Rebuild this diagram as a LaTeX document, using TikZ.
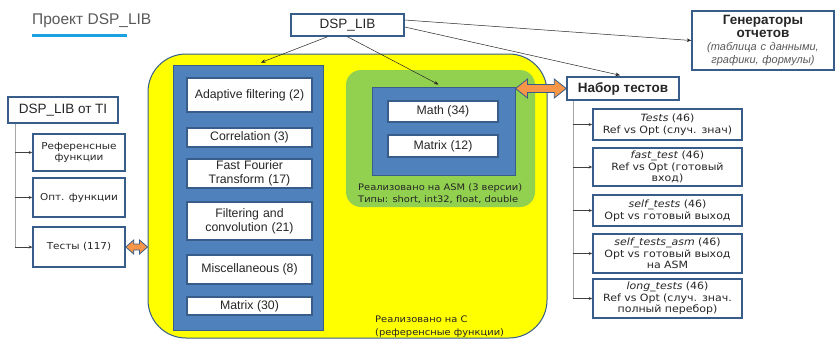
\documentclass[tikz,border=0pt]{standalone}
\usepackage{fontspec}
\setmainfont{Liberation Sans}
\newfontfamily\vf{DejaVu Sans}[FakeStretch=1.1]
\usetikzlibrary{calc,arrows.meta}
\definecolor{bdr}{HTML}{385D8A}
\definecolor{bluef}{HTML}{4F81BD}
\definecolor{yelf}{HTML}{FFFF00}
\definecolor{grnf}{HTML}{92D050}
\definecolor{orng}{HTML}{F79646}
\definecolor{txt}{HTML}{262626}
\definecolor{ttl}{HTML}{595959}
\definecolor{uline}{HTML}{1BA1E2}
\tikzset{
  wbox/.style={draw=bdr, line width=1.5pt, fill=white, inner sep=0pt, align=center, text=txt},
  mainf/.style={font=\fontsize{12.3}{14}\selectfont},
  vff/.style={font=\vf\fontsize{9.5}{11.5}\selectfont},
  bbox/.style={draw=bdr, line width=1pt, fill=bluef, inner sep=0pt},
  arr/.style={draw=black!85, line width=0.5pt, -{Stealth[length=4.5pt,width=3.5pt]}},
  vline/.style={draw=black!35, line width=0.8pt},
  harr/.style={draw=black!75, line width=0.6pt, -{Stealth[length=3.5pt,width=3pt]}},
  orarrow/.style={fill=orng, draw=bdr, line width=0.8pt, line join=miter},
  plain/.style={inner sep=0pt, text=txt}
}
\newcommand\dblarrow[5]{%
  \path[orarrow] let \p1=(#1), \p2=(#2) in
  (\x1,\y1) -- (\x1+#3,\y1+#4) -- (\x1+#3,\y1+#5) -- (\x2-#3,\y1+#5) -- (\x2-#3,\y1+#4)
  -- (\x2,\y1) -- (\x2-#3,\y1-#4) -- (\x2-#3,\y1-#5) -- (\x1+#3,\y1-#5) -- (\x1+#3,\y1-#4) -- cycle;}
\begin{document}
\begin{tikzpicture}[x=1pt,y=-1pt]
\path[use as bounding box, fill=white] (0,0) rectangle (836,341);

% title
\node[plain, anchor=base west, font=\fontsize{15.5}{18}\selectfont, text=ttl] (title) at (32,24) {Проект DSP\_LIB};
\draw[uline, line width=3pt] ($(title.base west)+(0,-11pt)$) -- ++(95pt,0);

% big regions
\node[draw=bdr, line width=1pt, fill=yelf, rounded corners=38pt, minimum width=399pt, minimum height=284pt] (yel) at (347.5,196) {};
\node[fill=grnf, rounded corners=15pt, minimum width=189pt, minimum height=137pt] (grn) at (440.5,138.5) {};
\node[bbox, minimum width=150pt, minimum height=265pt] (bcol) at (248,197.5) {};
\node[bbox, minimum width=143pt, minimum height=88pt] (bin) at (443.5,131) {};

% C column boxes
\node[wbox, mainf, minimum width=125pt, minimum height=34pt] (adapt) at (249.5,95) {Adaptive filtering (2)};
\node[wbox, mainf, minimum width=125pt, minimum height=19pt] (corr) at (249.5,137.5) {Correlation (3)};
\node[wbox, mainf, minimum width=125pt, minimum height=29pt, text width=120pt] (fft) at (249.5,173.5) {Fast Fourier\\Transform (17)};
\node[wbox, mainf, minimum width=125pt, minimum height=38pt, text width=120pt] (filt) at (249.5,221) {Filtering and\\convolution (21)};
\node[wbox, mainf, minimum width=125pt, minimum height=29pt] (misc) at (249.5,269.5) {Miscellaneous (8)};
\node[wbox, mainf, minimum width=125pt, minimum height=18pt] (mat30) at (249.5,306) {Matrix (30)};

% ASM boxes
\node[wbox, mainf, minimum width=110pt, minimum height=21pt] (math) at (443,111.5) {Math (34)};
\node[wbox, mainf, minimum width=110pt, minimum height=22pt] (mat12) at (443,146) {Matrix (12)};
\node[plain, anchor=base west, font=\vf\fontsize{9}{11}\selectfont] (asm1) at (358,190.5) {Реализовано на ASM (3 версии)};
\node[plain, anchor=base west, font=\vf\fontsize{9}{11}\selectfont] (asm2) at (358,202.5) {Типы: short, int32, float, double};
\node[plain, anchor=base west, font=\vf\fontsize{9}{11}\selectfont] (yc1) at (375,322) {Реализовано на С};
\node[plain, anchor=base west, font=\vf\fontsize{9}{11}\selectfont] (yc2) at (375,335.5) {(референсные функции)};

% top boxes
\node[wbox, font=\fontsize{13.5}{15}\selectfont, minimum width=113pt, minimum height=22pt] (dsp) at (347.5,25) {DSP\_LIB};
\node[wbox, minimum width=142pt, minimum height=59pt, text width=141pt, font=\fontsize{11}{13}\selectfont] (gen) at (763,40.5)
  {{\bfseries\fontsize{13.5}{13}\selectfont Генераторы}\\{\bfseries\fontsize{13.5}{13}\selectfont отчетов}\\\color{ttl}\itshape (таблица с данными,\\графики, формулы)};
\node[wbox, font=\bfseries\fontsize{13.5}{15}\selectfont, minimum width=112pt, minimum height=23pt] (nab) at (623,88.5) {Набор тестов};

% left TI
\node[wbox, font=\fontsize{13.5}{15}\selectfont, minimum width=110pt, minimum height=26pt] (ti) at (63,110) {DSP\_LIB от TI};
\node[wbox, vff, minimum width=92pt, minimum height=37pt, text width=90pt] (ref) at (79,152.5) {Референсные\\функции};
\node[wbox, vff, minimum width=92pt, minimum height=39pt] (opt) at (79,197.5) {Опт. функции};
\node[wbox, vff, minimum width=92pt, minimum height=40pt] (tst) at (79,247) {Тесты (117)};

% right tests
\node[wbox, font=\vf\fontsize{10}{11.5}\selectfont, minimum width=149pt, minimum height=31pt, text width=147pt] (t1) at (667.5,124.5) {\textit{Tests} (46)\\Ref vs Opt (случ. знач)};
\node[wbox, font=\vf\fontsize{10}{11.5}\selectfont, minimum width=149pt, minimum height=38pt, text width=147pt] (t2) at (667.5,167) {\textit{fast\_test} (46)\\Ref vs Opt (готовый\\вход)};
\node[wbox, font=\vf\fontsize{10}{11.5}\selectfont, minimum width=149pt, minimum height=31pt, text width=147pt] (t3) at (667.5,210.5) {\textit{self\_tests} (46)\\Opt vs готовый выход};
\node[wbox, font=\vf\fontsize{10}{11.5}\selectfont, minimum width=149pt, minimum height=39pt, text width=147pt] (t4) at (667.5,253.5) {\textit{self\_tests\_asm} (46)\\Opt vs готовый выход\\на ASM};
\node[wbox, font=\vf\fontsize{10}{11.5}\selectfont, minimum width=149pt, minimum height=39pt, text width=147pt] (t5) at (667.5,298.5) {\textit{long\_tests} (46)\\Ref vs Opt (случ. знач.\\полный перебор)};

% trees
\coordinate (lv) at ($(ti.south west)+(8pt,0)$);
\draw[vline] (lv) |- (tst.west);
\draw[harr] (lv |- ref.west) -- (ref.west);
\draw[harr] (lv |- opt.west) -- (opt.west);
\draw[harr] (lv |- tst.west) -- (tst.west);

\coordinate (rv) at ($(nab.south west)+(7pt,0)$);
\draw[vline] (rv) |- (t5.west);
\draw[harr] (rv |- t1.west) -- (t1.west);
\draw[harr] (rv |- t2.west) -- (t2.west);
\draw[harr] (rv |- t3.west) -- (t3.west);
\draw[harr] (rv |- t4.west) -- (t4.west);
\draw[harr] (rv |- t5.west) -- (t5.west);

% arrows from DSP_LIB
\draw[arr] ($(dsp.south)+(-20pt,0)$) -- ($(bcol.north)+(13pt,2pt)$);
\draw[arr] (dsp.south) -- ($(bin.north)+(-5pt,2pt)$);
\draw[arr] ($(dsp.east)+(0,5pt)$) -- (gen.west);
\draw[arr] ($(dsp.east)+(0,-2pt)$) -- ($(nab.north)+(-3pt,1pt)$);

% orange double arrows
\coordinate (yl) at (tst.east -| yel.west);
\dblarrow{tst.east}{yl}{8pt}{7pt}{3pt}
\coordinate (bl) at (nab.west -| bin.east);
\dblarrow{bl}{nab.west}{12pt}{9.5pt}{4pt}
\end{tikzpicture}
\end{document}
